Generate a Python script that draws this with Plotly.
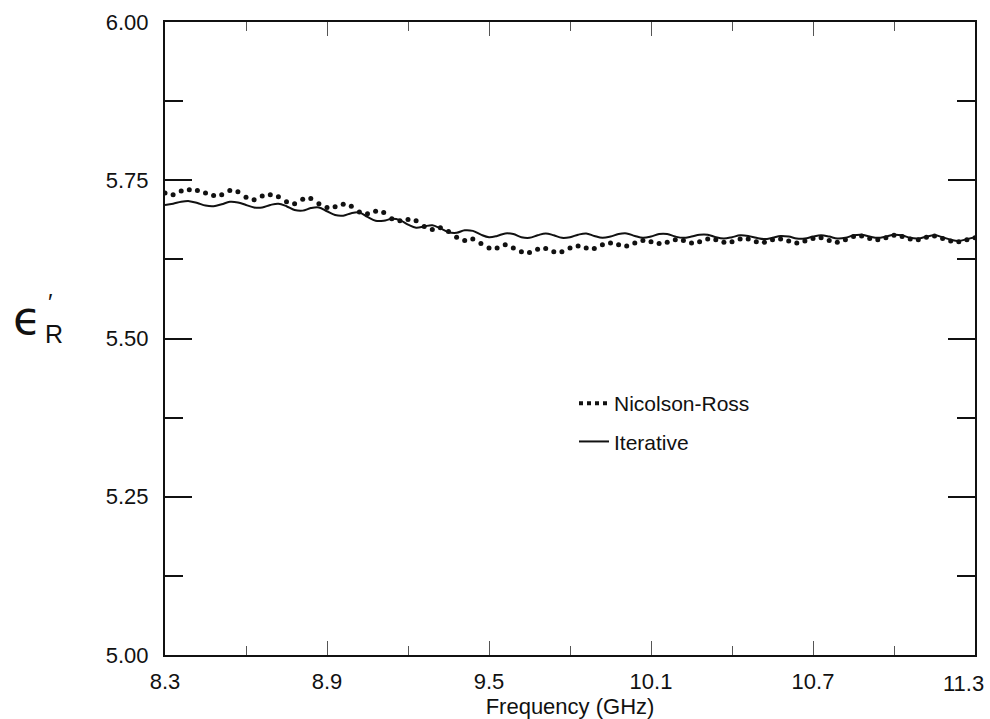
import plotly.graph_objects as go

# ---- data ----
freq_ghz = [8.30, 8.33, 8.36, 8.39, 8.42, 8.45, 8.48, 8.51, 8.54, 8.57,
            8.60, 8.63, 8.66, 8.69, 8.72, 8.75, 8.78, 8.81, 8.84, 8.87,
            8.90, 8.93, 8.96, 8.99, 9.02, 9.05, 9.08, 9.11, 9.14, 9.17,
            9.20, 9.23, 9.26, 9.29, 9.32, 9.35, 9.38, 9.41, 9.44, 9.47,
            9.50, 9.53, 9.56, 9.59, 9.62, 9.65, 9.68, 9.71, 9.74, 9.77,
            9.80, 9.83, 9.86, 9.89, 9.92, 9.95, 9.98, 10.01, 10.04, 10.07,
            10.10, 10.13, 10.16, 10.19, 10.22, 10.25, 10.28, 10.31, 10.34, 10.37,
            10.40, 10.43, 10.46, 10.49, 10.52, 10.55, 10.58, 10.61, 10.64, 10.67,
            10.70, 10.73, 10.76, 10.79, 10.82, 10.85, 10.88, 10.91, 10.94, 10.97,
            11.00, 11.03, 11.06, 11.09, 11.12, 11.15, 11.18, 11.21, 11.24, 11.27,
            11.30]

iterative = [5.711, 5.713, 5.716, 5.717, 5.714, 5.710, 5.709, 5.712, 5.716, 5.715,
             5.711, 5.707, 5.707, 5.711, 5.713, 5.709, 5.703, 5.702, 5.706, 5.707,
             5.701, 5.695, 5.694, 5.698, 5.699, 5.692, 5.686, 5.686, 5.689, 5.687,
             5.680, 5.675, 5.677, 5.679, 5.674, 5.668, 5.667, 5.671, 5.670, 5.664,
             5.660, 5.662, 5.666, 5.665, 5.660, 5.659, 5.663, 5.666, 5.663, 5.659,
             5.660, 5.664, 5.666, 5.662, 5.659, 5.661, 5.665, 5.666, 5.662, 5.659,
             5.661, 5.665, 5.665, 5.661, 5.659, 5.661, 5.664, 5.664, 5.660, 5.658,
             5.660, 5.663, 5.662, 5.659, 5.657, 5.659, 5.662, 5.661, 5.658, 5.658,
             5.661, 5.663, 5.661, 5.658, 5.659, 5.663, 5.664, 5.661, 5.659, 5.661,
             5.664, 5.663, 5.659, 5.658, 5.661, 5.663, 5.660, 5.656, 5.654, 5.657,
             5.660]

nicolson_ross = [5.730, 5.727, 5.733, 5.735, 5.734, 5.730, 5.726, 5.727, 5.734, 5.732,
                 5.723, 5.719, 5.725, 5.727, 5.724, 5.716, 5.713, 5.720, 5.721, 5.713,
                 5.707, 5.708, 5.712, 5.709, 5.700, 5.697, 5.701, 5.699, 5.689, 5.686,
                 5.688, 5.686, 5.677, 5.672, 5.675, 5.669, 5.660, 5.655, 5.657, 5.650,
                 5.643, 5.643, 5.648, 5.643, 5.637, 5.636, 5.641, 5.642, 5.637, 5.637,
                 5.643, 5.646, 5.643, 5.642, 5.648, 5.651, 5.648, 5.646, 5.651, 5.655,
                 5.653, 5.650, 5.652, 5.656, 5.655, 5.651, 5.653, 5.657, 5.656, 5.652,
                 5.653, 5.657, 5.657, 5.653, 5.652, 5.656, 5.657, 5.654, 5.651, 5.654,
                 5.658, 5.659, 5.655, 5.652, 5.656, 5.661, 5.662, 5.658, 5.656, 5.659,
                 5.663, 5.661, 5.657, 5.656, 5.660, 5.662, 5.658, 5.654, 5.653, 5.656,
                 5.659]

x_tickvals = [8.3, 8.9, 9.5, 10.1, 10.7, 11.3]
x_ticktext = ["8.3", "8.9", "9.5", "10.1", "10.7", "11.3"]
x_minor = [8.6, 9.2, 9.8, 10.4, 11.0]
y_tickvals = [5.00, 5.25, 5.50, 5.75, 6.00]
y_ticktext = ["5.00", "5.25", "5.50", "5.75", "6.00"]
y_minor = [5.125, 5.375, 5.625, 5.875]

# ---- layout geometry (pixels) ----
W, H = 990, 719
ML, MR, MT, MB = 165, 15, 22, 64
PW, PH = W - ML - MR, H - MT - MB


def px_x(px):
    return (px - ML) / PW


def px_y(py):
    return (H - MB - py) / PH


FONT = "Liberation Sans, Arial, Helvetica, sans-serif"
INK = "#111111"

fig = go.Figure()

fig.add_trace(go.Scatter(
    x=freq_ghz, y=iterative, mode="lines",
    line=dict(color=INK, width=2, shape="spline", smoothing=1.0),
    showlegend=False, name="Iterative"))

fig.add_trace(go.Scatter(
    x=freq_ghz, y=nicolson_ross, mode="markers",
    marker=dict(color=INK, size=5),
    showlegend=False, name="Nicolson-Ross"))

# legend-only entries
fig.add_trace(go.Scatter(
    x=[None], y=[None], mode="lines", name="Nicolson-Ross",
    line=dict(color=INK, width=4, dash="dot"), legendgroup="a"))
fig.add_trace(go.Scatter(
    x=[None], y=[None], mode="lines", name="Iterative",
    line=dict(color=INK, width=2), legendgroup="b"))

# last x tick label is drawn slightly inward (as in the original) so it is not clipped
shown_ticktext = x_ticktext[:-1] + [""]

fig.update_layout(
    width=W, height=H,
    margin=dict(l=ML, r=MR, t=MT, b=MB, pad=0),
    paper_bgcolor="white", plot_bgcolor="white",
    font=dict(family=FONT, size=22, color=INK),
    legend=dict(x=px_x(574), y=px_y(383), xanchor="left", yanchor="top",
                bgcolor="rgba(0,0,0,0)", borderwidth=0,
                font=dict(size=21, color=INK), tracegroupgap=8,
                itemwidth=30),
    xaxis=dict(
        range=[8.3, 11.3], tickmode="array", tickvals=x_tickvals, ticktext=shown_ticktext,
        showgrid=False, zeroline=False, showline=True, linecolor=INK, linewidth=2,
        mirror="ticks", ticks="inside", ticklen=14, tickwidth=1, tickcolor="#555555",
        ticklabelstandoff=6,
        minor=dict(tickmode="array", tickvals=x_minor, ticks="inside", ticklen=9,
                   tickwidth=1, tickcolor="#555555", showgrid=False),
        title=dict(text="Frequency (GHz)", standoff=2, font=dict(size=22)),
        automargin=False,
    ),
    yaxis=dict(
        range=[5.0, 6.0], tickmode="array", tickvals=y_tickvals, ticktext=y_ticktext,
        showgrid=False, zeroline=False, showline=True, linecolor=INK, linewidth=2,
        mirror="ticks", ticks="inside", ticklen=27, tickwidth=1.5, tickcolor=INK,
        ticklabelstandoff=10,
        minor=dict(tickmode="array", tickvals=y_minor, ticks="inside", ticklen=18,
                   tickwidth=1.5, tickcolor=INK, showgrid=False),
        automargin=False,
    ),
)

fig.add_annotation(text=x_ticktext[-1], x=x_tickvals[-1], xref="x", y=0, yref="paper",
                   xanchor="center", yanchor="top", xshift=-12, yshift=-14,
                   showarrow=False, font=dict(family=FONT, size=22, color=INK))

# y-axis label: epsilon'_R
fig.add_annotation(text="ϵ", x=px_x(27), y=px_y(318), xref="paper", yref="paper",
                   showarrow=False, font=dict(family="DejaVu Sans, Noto Sans", size=46, color=INK),
                   xanchor="center", yanchor="middle")
fig.add_annotation(text="′", x=px_x(50), y=px_y(302), xref="paper", yref="paper",
                   showarrow=False, font=dict(family=FONT, size=24, color=INK),
                   xanchor="center", yanchor="middle")
fig.add_annotation(text="R", x=px_x(54), y=px_y(334), xref="paper", yref="paper",
                   showarrow=False, font=dict(family=FONT, size=25, color=INK),
                   xanchor="center", yanchor="middle")

fig.write_html("out.html")
